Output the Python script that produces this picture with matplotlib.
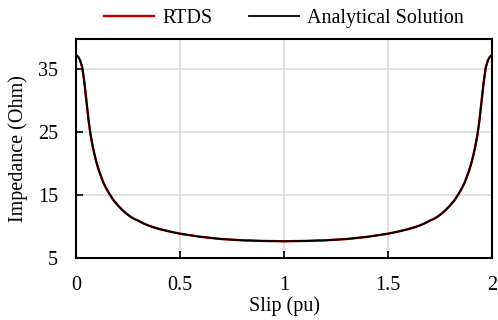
import matplotlib.pyplot as plt

# Impedance vs slip: RTDS vs analytical solution

slip = [0.00, 0.01, 0.02, 0.03, 0.04, 0.05, 0.06, 0.07, 0.08, 0.09,
        0.10, 0.11, 0.12, 0.13, 0.14, 0.15, 0.16, 0.18, 0.20, 0.22,
        0.24, 0.26, 0.28, 0.30, 0.33, 0.36, 0.40, 0.45, 0.50, 0.55,
        0.60, 0.70, 0.80, 0.90, 1.00, 1.10, 1.20, 1.30, 1.40, 1.45,
        1.50, 1.55, 1.60, 1.64, 1.67, 1.70, 1.72, 1.74, 1.76, 1.78,
        1.80, 1.82, 1.84, 1.85, 1.86, 1.87, 1.88, 1.89, 1.90, 1.91,
        1.92, 1.93, 1.94, 1.95, 1.96, 1.97, 1.98, 1.99, 2.00]

analytical = [37.3, 37.0, 36.4, 35.3, 33.0, 30.0, 27.0, 24.6, 22.8, 21.3,
              20.0, 18.9, 18.0, 17.1, 16.4, 15.8, 15.2, 14.2, 13.4, 12.7,
              12.1, 11.6, 11.2, 10.9, 10.4, 10.0, 9.6, 9.2, 8.85, 8.6,
              8.35, 8.0, 7.8, 7.7, 7.65, 7.7, 7.8, 8.0, 8.35, 8.6,
              8.85, 9.2, 9.6, 10.0, 10.4, 10.9, 11.2, 11.6, 12.1, 12.7,
              13.4, 14.2, 15.2, 15.8, 16.4, 17.1, 18.0, 18.9, 20.0, 21.3,
              22.8, 24.6, 27.0, 30.0, 33.0, 35.3, 36.4, 37.0, 37.3]

rtds = [37.3, 37.0, 36.4, 35.3, 33.0, 30.0, 27.0, 24.6, 22.8, 21.3,
        20.0, 18.9, 18.0, 17.1, 16.4, 15.8, 15.2, 14.2, 13.4, 12.7,
        12.1, 11.6, 11.2, 10.9, 10.4, 10.0, 9.6, 9.2, 8.85, 8.6,
        8.35, 8.0, 7.8, 7.7, 7.65, 7.7, 7.8, 8.0, 8.35, 8.6,
        8.85, 9.2, 9.6, 10.0, 10.4, 10.9, 11.2, 11.6, 12.1, 12.7,
        13.4, 14.2, 15.2, 15.8, 16.4, 17.1, 18.0, 18.9, 20.0, 21.3,
        22.8, 24.6, 27.0, 30.0, 33.0, 35.3, 36.4, 37.0, 37.3]

x_ticks = [0, 0.5, 1, 1.5, 2]
x_tick_labels = ['0', '0.5', '1', '1.5', '2']
y_ticks = [5, 15, 25, 35]

plt.rcParams['font.family'] = ['Liberation Serif', 'DejaVu Serif']
plt.rcParams['font.size'] = 14.5

fig = plt.figure(figsize=(4.98, 3.2), dpi=100)
ax = fig.add_axes([0.1526, 0.194, 0.8354, 0.684])

ax.plot(slip, rtds, color='#C00000', linewidth=1.7, label='RTDS')
ax.plot(slip, analytical, color='black', linewidth=1.3, label='Analytical Solution')

ax.set_xlim(0, 2)
ax.set_ylim(5, 39.8)
ax.set_xticks(x_ticks)
ax.set_xticklabels(x_tick_labels)
ax.set_yticks(y_ticks)

ax.grid(True, color='#D9D9D9', linewidth=1.1)
ax.set_axisbelow(True)
for s in ax.spines.values():
    s.set_linewidth(1.5)
    s.set_color('black')

ax.tick_params(axis='both', direction='in', length=5, width=1.2, colors='black')
ax.tick_params(axis='y', pad=13)
ax.tick_params(axis='x', pad=13)

ax.set_xlabel('Slip (pu)', labelpad=1)
ax.set_ylabel('Impedance (Ohm)', labelpad=7)

ax.legend(loc='center', bbox_to_anchor=(0.5, 1.095), ncol=2, frameon=False,
          handlelength=2.5, handletextpad=0.4, columnspacing=1.8)

fig.savefig('out.png', dpi=100)
